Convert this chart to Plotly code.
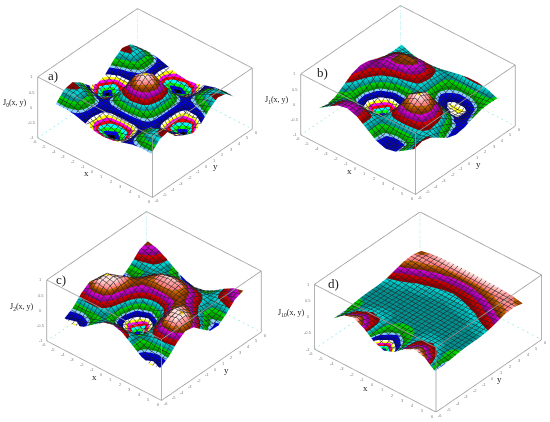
import plotly.graph_objects as go

W, H = 550, 422

# grid of the surfaces, box limits
x_vals = [-5, -4, -3, -2, -1, 0, 1, 2, 3, 4, 5]
y_vals = [-5, -4, -3, -2, -1, 0, 1, 2, 3, 4, 5]
box_xy = [-6, 6]
box_z = [-1, 1]
xy_ticks = [-6, -5, -4, -3, -2, -1, 0, 1, 2, 3, 4, 5, 6]
z_ticks = [-1, -0.5, 0, 0.5, 1]
z_ticktext = ["-1", "-0.5", "0", "0.5", "1"]

# z rows run from y=-5 to y=5, columns from x=-5 to x=5
j0_z = [
    [.083, .100, .058, -.037, -.136, -.178, -.136, -.037, .058, .100, .083],
    [.366, .365, .199, -.064, -.302, -.397, -.302, -.064, .199, .365, .366],
    [.431, .377, .196, -.025, -.197, -.260, -.197, -.025, .196, .377, .431],
    [.237, .109, .035, .074, .173, .224, .173, .074, .035, .109, .237],
    [-.046, -.239, -.169, .179, .586, .765, .586, .179, -.169, -.239, -.046],
    [-.178, -.397, -.260, .224, .765, 1.0, .765, .224, -.260, -.397, -.178],
    [-.046, -.239, -.169, .179, .586, .765, .586, .179, -.169, -.239, -.046],
    [.237, .109, .035, .074, .173, .224, .173, .074, .035, .109, .237],
    [.431, .377, .196, -.025, -.197, -.260, -.197, -.025, .196, .377, .431],
    [.366, .365, .199, -.064, -.302, -.397, -.302, -.064, .199, .365, .366],
    [.083, .100, .058, -.037, -.136, -.178, -.136, -.037, .058, .100, .083],
]
j1_z = [
    [-.139, .073, .269, .337, .230, 0, -.230, -.337, -.269, -.073, .139],
    [-.213, .047, .255, .317, .212, 0, -.212, -.317, -.255, -.047, .213],
    [-.139, -.039, -.016, -.032, -.032, 0, .032, .032, .016, .039, .139],
    [.050, -.109, -.362, -.494, -.357, 0, .357, .494, .362, .109, -.050],
    [.240, -.078, -.515, -.738, -.537, 0, .537, .738, .515, .078, -.240],
    [.328, .066, -.339, -.577, -.440, 0, .440, .577, .339, -.066, -.328],
    [.285, .248, .057, -.117, -.132, 0, .132, .117, -.057, -.248, -.285],
    [.174, .350, .398, .322, .174, 0, -.174, -.322, -.398, -.350, -.174],
    [.082, .299, .452, .451, .280, 0, -.280, -.451, -.452, -.299, -.082],
    [.055, .126, .209, .230, .152, 0, -.152, -.230, -.209, -.126, -.055],
    [.069, -.058, -.122, -.120, -.071, 0, .071, .120, .122, .058, -.069],
]
j2_z = [
    [-.276, -.351, -.235, .004, .234, .328, .234, .004, -.235, -.351, -.276],
    [-.117, -.145, -.091, -.013, .046, .066, .046, -.013, -.091, -.145, -.117],
    [.168, .257, .209, .006, -.233, -.339, -.233, .006, .209, .257, .168],
    [.357, .584, .494, .090, -.374, -.577, -.374, .090, .494, .584, .357],
    [.300, .619, .599, .226, -.235, -.440, -.235, .226, .599, .619, .300],
    [.047, .364, .486, .353, .115, 0, .115, .353, .486, .364, .047],
    [-.187, .033, .259, .395, .437, .440, .437, .395, .259, .033, -.187],
    [-.202, -.126, .076, .318, .507, .577, .507, .318, .076, -.126, -.202],
    [.015, -.032, .025, .155, .285, .339, .285, .155, .025, -.032, .015],
    [.283, .184, .074, -.009, -.053, -.066, -.053, -.009, .074, .184, .283],
    [.379, .298, .118, -.096, -.264, -.328, -.264, -.096, .118, .298, .379],
]
j10_z = [
    [-.079, .181, .267, .112, -.141, -.261, -.141, .112, .267, .181, -.079],
    [-.087, .066, .140, .072, -.064, -.132, -.064, .072, .140, .066, -.087],
    [-.051, .004, .045, .031, -.017, -.043, -.017, .031, .045, .004, -.051],
    [-.012, -.006, .006, .007, -.002, -.007, -.002, .007, .006, -.006, -.012],
    [.001, -.001, 0, 0, 0, 0, 0, 0, 0, -.001, .001],
    [.002, 0, 0, 0, 0, 0, 0, 0, 0, 0, .002],
    [.032, .014, .005, .002, .001, 0, .001, .002, .005, .014, .032],
    [.108, .066, .037, .019, .010, .007, .010, .019, .037, .066, .108],
    [.191, .148, .105, .071, .050, .043, .050, .071, .105, .148, .191],
    [.213, .211, .189, .162, .140, .132, .140, .162, .189, .211, .213],
    [.144, .206, .242, .257, .261, .261, .261, .257, .242, .206, .144],
]

# scilab default colormap, one flat band per colour
palette = [
    "#000000", "#0000ff", "#00ff00", "#00ffff", "#ff0000", "#ff00ff", "#ffff00", "#ffffff",
    "#000090", "#0000b0", "#0000d0", "#87ceff", "#009000", "#00b000", "#00d000", "#009090",
    "#00b0b0", "#00d0d0", "#900000", "#b00000", "#d00000", "#900090", "#b000b0", "#d000d0",
    "#803000", "#a04000", "#c06000", "#ff8080", "#ffa0a0", "#ffc0c0", "#ffe0e0", "#ffd700",
]
bands = []
for i, c in enumerate(palette):
    bands.append([i / len(palette), c])
    bands.append([(i + 1) / len(palette), c])

# name, z, z range, box centre in pixels, zoom, label positions
panels = [
    ("a)", "J<sub>0</sub>(x, y)", j0_z, (-.40, 1.0), (145, 103), 1.0,
     (53, 75), (15, 103), (86, 173), (215, 166)),
    ("b)", "J<sub>1</sub>(x, y)", j1_z, (-.75, .75), (408, 100), 1.0,
     (322, 72), (277, 100), (349, 171), (478, 164)),
    ("c)", "J<sub>2</sub>(x, y)", j2_z, (-.60, .65), (154, 306), 1.0,
     (61, 279), (22, 307), (94, 377), (226, 370)),
    ("d)", "J<sub>10</sub>(x, y)", j10_z, (-.27, .28), (428, 312), 1.06,
     (333, 283), (291, 313), (365, 388), (499, 379)),
]

eye_dir = (.53, -.61, .60)
eye_norm = 1.75
aspect_scale = 1.52
dom_w, dom_h = 240, 200

fig = go.Figure()
annotations = []
layout_scenes = {}


def box_lines(scene):
    lo, hi = box_xy
    zb, zt = box_z
    grey = [
        ([lo, hi, hi, lo, lo], [lo, lo, hi, hi, lo], [zt] * 5),
        ([lo, hi, hi], [lo, lo, hi], [zb] * 3),
        ([lo, lo], [lo, lo], box_z),
        ([hi, hi], [lo, lo], box_z),
        ([hi, hi], [hi, hi], box_z),
    ]
    cyan = [
        ([lo, lo, hi], [lo, hi, hi], [zb] * 3),
        ([lo, lo], [hi, hi], box_z),
    ]
    for lines, color, dash in ((grey, "#9a9a9a", "solid"), (cyan, "#8fe8e8", "dash")):
        for xs, ys, zs in lines:
            fig.add_trace(go.Scatter3d(x=xs, y=ys, z=zs, mode="lines", scene=scene,
                                       line=dict(color=color, width=1.5, dash=dash),
                                       showlegend=False, hoverinfo="skip"))


def tick_notes():
    lo, hi = box_xy
    zb = box_z[0]
    font = dict(size=4, color="#808080", family="Liberation Sans")
    notes = []
    for t in xy_ticks:
        notes.append(dict(x=t, y=lo, z=zb, text=str(t), showarrow=False, font=font, xshift=-3, yshift=-4))
        notes.append(dict(x=hi, y=t, z=zb, text=str(t), showarrow=False, font=font, xshift=4, yshift=-3))
    for t, label in zip(z_ticks, z_ticktext):
        notes.append(dict(x=lo, y=lo, z=t, text=label, showarrow=False, font=font, xshift=-6))
    return notes


for n, (tag, zlabel, z, zr, centre, zoom, tag_xy, zlab_xy, xlab_xy, ylab_xy) in enumerate(panels):
    scene = "scene" if n == 0 else f"scene{n + 1}"
    fig.add_trace(go.Surface(
        x=x_vals, y=y_vals, z=z, scene=scene,
        colorscale=bands, cmin=zr[0], cmax=zr[1], showscale=False,
        lighting=dict(ambient=1, diffuse=0, specular=0, roughness=1, fresnel=0),
        contours=dict(
            x=dict(show=True, start=-5, end=5, size=.4, color="#222222", width=1, highlight=False),
            y=dict(show=True, start=-5, end=5, size=.4, color="#222222", width=1, highlight=False),
            z=dict(highlight=False),
        ),
        hoverinfo="skip",
    ))
    box_lines(scene)

    cx, cy = centre
    axis_common = dict(visible=False, showspikes=False)
    s = aspect_scale * zoom
    layout_scenes[scene] = dict(
        domain=dict(x=[(cx - dom_w / 2) / W, (cx + dom_w / 2) / W],
                    y=[1 - (cy + dom_h / 2) / H, 1 - (cy - dom_h / 2) / H]),
        xaxis=dict(range=box_xy, **axis_common),
        yaxis=dict(range=box_xy, **axis_common),
        zaxis=dict(range=box_z, **axis_common),
        aspectmode="manual",
        aspectratio=dict(x=s, y=s, z=.5 * s),
        annotations=tick_notes(),
        camera=dict(
            projection=dict(type="orthographic"),
            up=dict(x=0, y=0, z=1),
            center=dict(x=0, y=0, z=0),
            eye=dict(x=eye_dir[0] * eye_norm, y=eye_dir[1] * eye_norm, z=eye_dir[2] * eye_norm),
        ),
    )
    for text, (px, py), size in ((tag, tag_xy, 13), (zlabel, zlab_xy, 8), ("x", xlab_xy, 9), ("y", ylab_xy, 9)):
        annotations.append(dict(text=text, x=px / W, y=1 - py / H, xref="paper", yref="paper",
                                showarrow=False, xanchor="center", yanchor="middle",
                                font=dict(family="Liberation Serif", size=size, color="#222222")))

fig.update_layout(
    width=W, height=H, margin=dict(l=0, r=0, t=0, b=0),
    paper_bgcolor="white", showlegend=False, annotations=annotations, **layout_scenes,
)

# the page's default body margin would push the figure 8 px off
fig.write_html("out.html", config=dict(displayModeBar=False),
               post_script="document.body.style.margin = '0';")
